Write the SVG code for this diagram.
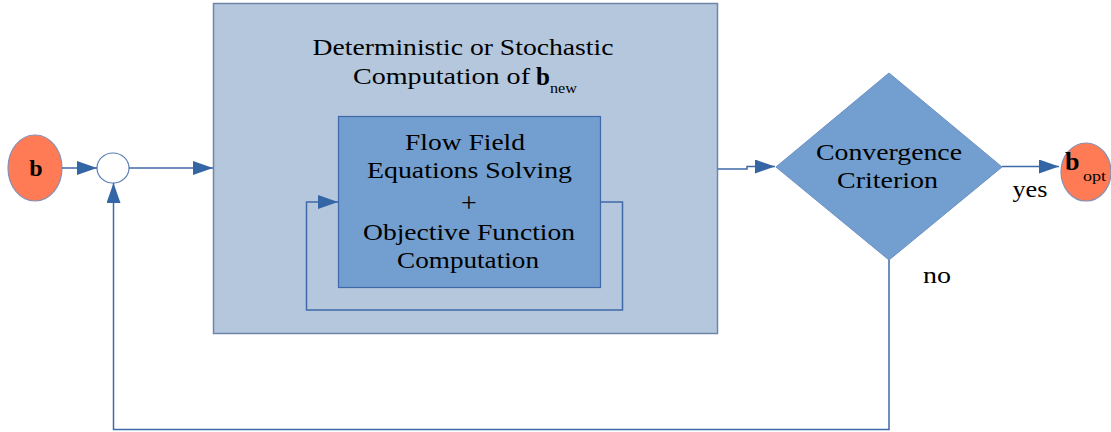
<svg xmlns="http://www.w3.org/2000/svg" width="1111" height="432" viewBox="0 0 1111 432">
<defs>
<style>
.t{font-family:"Liberation Serif","Times New Roman",serif;font-size:23px;fill:#000;}
.c{text-anchor:middle;}
.b{font-weight:bold;}
.s{font-size:15px;}
.ln{fill:none;stroke:#3f69a8;stroke-width:1.5;}
.orange{fill:#ff7b55;stroke:#8a8fb0;stroke-width:1.2;}
</style>
<marker id="ahl" viewBox="0 0 20 14" refX="20" refY="7" markerWidth="20" markerHeight="14" markerUnits="userSpaceOnUse" orient="auto">
<path d="M0,0 L20,7 L0,14 Z" fill="#3465a4"/>
</marker>
</defs>
<rect width="1111" height="432" fill="#ffffff"/>

<g id="outer">
<rect x="213.5" y="3.5" width="504" height="330" fill="#b4c7dd" stroke="#6f85a8" stroke-width="1.5"/>
<text class="t c" x="463" y="55" textLength="301" lengthAdjust="spacingAndGlyphs">Deterministic or Stochastic</text>
<text class="t" x="353" y="84" textLength="177" lengthAdjust="spacingAndGlyphs">Computation of</text>
<text class="t b" x="536" y="85" style="font-size:25px">b</text>
<text class="t s" x="550" y="93" textLength="27" lengthAdjust="spacingAndGlyphs">new</text>
</g>

<g id="inner">
<rect x="338.5" y="116.5" width="262" height="171" fill="#729fcf" stroke="#3f69a8" stroke-width="1.2"/>
<text class="t c" x="465" y="150" textLength="120" lengthAdjust="spacingAndGlyphs">Flow Field</text>
<text class="t c" x="469.5" y="178" textLength="205" lengthAdjust="spacingAndGlyphs">Equations Solving</text>
<text class="t c" x="469" y="212" style="font-size:28px">+</text>
<text class="t c" x="469" y="240" textLength="212" lengthAdjust="spacingAndGlyphs">Objective Function</text>
<text class="t c" x="468" y="268" textLength="142" lengthAdjust="spacingAndGlyphs">Computation</text>
</g>

<g id="b">
<ellipse class="orange" cx="35" cy="168" rx="27" ry="33"/>
<text class="t b c" x="36" y="176" style="font-size:24px">b</text>
</g>

<g id="sum">
<ellipse cx="113" cy="168" rx="16" ry="15" fill="#ffffff" stroke="#5a7fb5" stroke-width="1.2"/>
</g>

<g id="decision">
<polygon points="776,167 889,73 1002,167 889,260" fill="#729fcf" stroke="#6a90c4" stroke-width="1"/>
<text class="t c" x="889" y="160" textLength="146" lengthAdjust="spacingAndGlyphs">Convergence</text>
<text class="t c" x="887.5" y="188" textLength="101" lengthAdjust="spacingAndGlyphs">Criterion</text>
</g>

<g id="bopt">
<ellipse class="orange" cx="1086" cy="172" rx="25" ry="29"/>
<text class="t b" x="1065" y="170" style="font-size:26px">b</text>
<text class="t s" x="1083" y="181" textLength="23" lengthAdjust="spacingAndGlyphs">opt</text>
</g>

<g id="connectors">
<path class="ln" d="M62,168 L97,168" marker-end="url(#ahl)"/>
<path class="ln" d="M129,168 L213,168" marker-end="url(#ahl)"/>
<path class="ln" d="M718,169 L747,169 L747,166.5 L775,166.5" marker-end="url(#ahl)"/>
<path class="ln" d="M1002,166.5 L1059,166.5" marker-end="url(#ahl)"/>
<path class="ln" d="M889,260 L889,429.5 L113.5,429.5 L113.5,183" marker-end="url(#ahl)"/>
<path class="ln" d="M600.5,202 L622.5,202 L622.5,310 L306.5,310 L306.5,202 L338,202" marker-end="url(#ahl)"/>
<text class="t c" x="1030" y="197" textLength="35" lengthAdjust="spacingAndGlyphs">yes</text>
<text class="t c" x="937" y="283" textLength="28" lengthAdjust="spacingAndGlyphs">no</text>
</g>
</svg>
